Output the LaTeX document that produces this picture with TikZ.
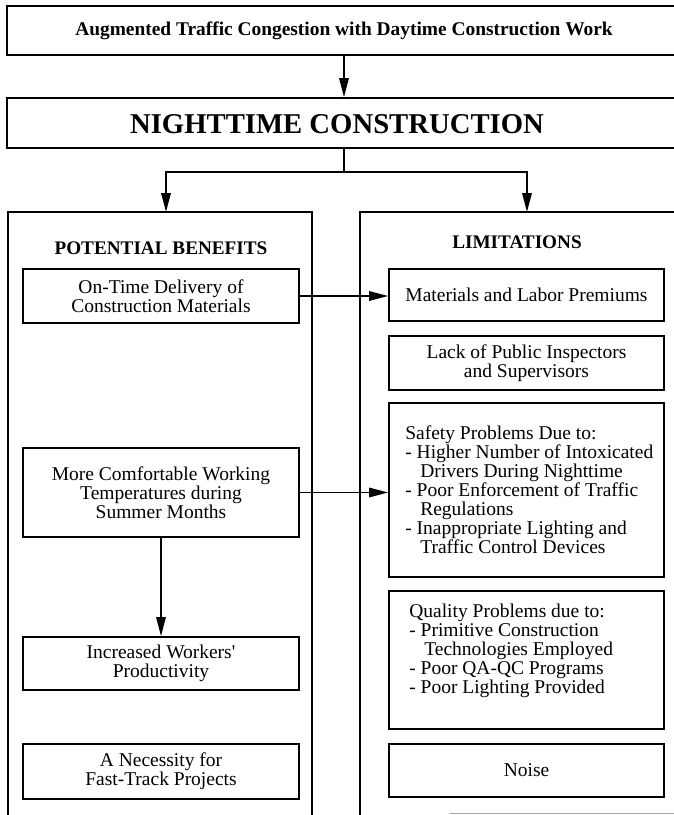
\documentclass[tikz,border=0pt]{standalone}
\usepackage{fontspec}
\setmainfont{Liberation Serif}
\usetikzlibrary{arrows.meta}
\begin{document}
\begin{tikzpicture}[x=1pt,y=-1pt,
  box/.style={draw, line width=1.8pt, inner sep=0pt, align=center, font=\fontsize{19.5}{19}\selectfont},
  lbox/.style={box, minimum width=276pt},
  rbox/.style={box, minimum width=275pt},
  body/.style={inner sep=0pt, align=left, font=\fontsize{19.5}{19}\selectfont},
  head/.style={inner sep=0pt, font=\bfseries\fontsize{19.2}{19}\selectfont},
  conn/.style={line width=1.6pt},
  arr/.style={line width=1.6pt, -{Triangle[length=19pt,width=9.5pt]}}]
\useasboundingbox (0,0) rectangle (674,815);
% top boxes
\node[box, minimum width=674pt, minimum height=49pt, font=\bfseries\fontsize{19.4}{19}\selectfont] (top) at (344,30.5) {Augmented Traffic Congestion with Daytime Construction Work};
\node[box, minimum width=674pt, minimum height=50pt] (night) at (344,123) {};
\node[head, font=\bfseries\fontsize{28.7}{28.7}\selectfont] (nightlbl) at (337,124) {NIGHTTIME CONSTRUCTION};
\draw[arr] (top.south) -- (night.north);
% split
\coordinate (j) at (344,172);
\coordinate (lt) at (166,212);
\coordinate (rt) at (527,212);
\draw[conn] (night.south) -- (j);
\draw[arr] (j) -| (lt);
\draw[arr] (j) -| (rt);
% big columns
\node[box, minimum width=304pt, minimum height=628pt] (leftbig) at (160,526) {};
\node[box, minimum width=330pt, minimum height=628pt] (rightbig) at (525,526) {};
\node[head] (benh) at (161,248) {POTENTIAL BENEFITS};
\node[head] (limh) at (517,242) {LIMITATIONS};
% left column
\node[lbox, minimum height=54pt] (L1) at (161,296) {On-Time Delivery of\\Construction Materials};
\node[lbox, minimum height=89pt] (L2) at (161,492.5) {More Comfortable Working\\Temperatures during\\Summer Months};
\node[lbox, minimum height=53pt] (L3) at (161,663.5) {Increased Workers\textquotesingle\\Productivity};
\node[lbox, minimum height=55pt] (L4) at (161,771.5) {A Necessity for\\Fast-Track Projects};
% right column
\node[rbox, minimum height=52pt] (R1) at (526.5,295) {Materials and Labor Premiums};
\node[rbox, minimum height=54pt] (R2) at (526.5,363) {Lack of Public Inspectors\\and Supervisors};
\node[rbox, minimum height=174pt] (R3) at (526.5,490) {};
\node[body, anchor=west] (R3t) at ([xshift=17pt]R3.west) {Safety Problems Due to:\\- Higher Number of Intoxicated\\\hspace*{15pt}Drivers During Nighttime\\- Poor Enforcement of Traffic\\\hspace*{15pt}Regulations\\- Inappropriate Lighting and\\\hspace*{15pt}Traffic Control Devices};
\node[rbox, minimum height=138pt] (R4) at (526.5,660) {};
\node[body, anchor=west] (R4t) at ([xshift=21pt,yshift=9pt]R4.west) {Quality Problems due to:\\- Primitive Construction\\\hspace*{15pt}Technologies Employed\\- Poor QA-QC Programs\\- Poor Lighting Provided};
\node[rbox, minimum height=53pt] (R5) at (526.5,770.5) {Noise};
% connectors
\draw[arr] (L1.east) -- (L1.east -| R1.west);
\draw[arr] (L2.east) -- (L2.east -| R3.west);
\draw[arr] (L2.south) -- (L3.north);
% faint line at bottom
\draw[gray!70, line width=1pt] (450,813) -- (674,813);
\end{tikzpicture}
\end{document}
